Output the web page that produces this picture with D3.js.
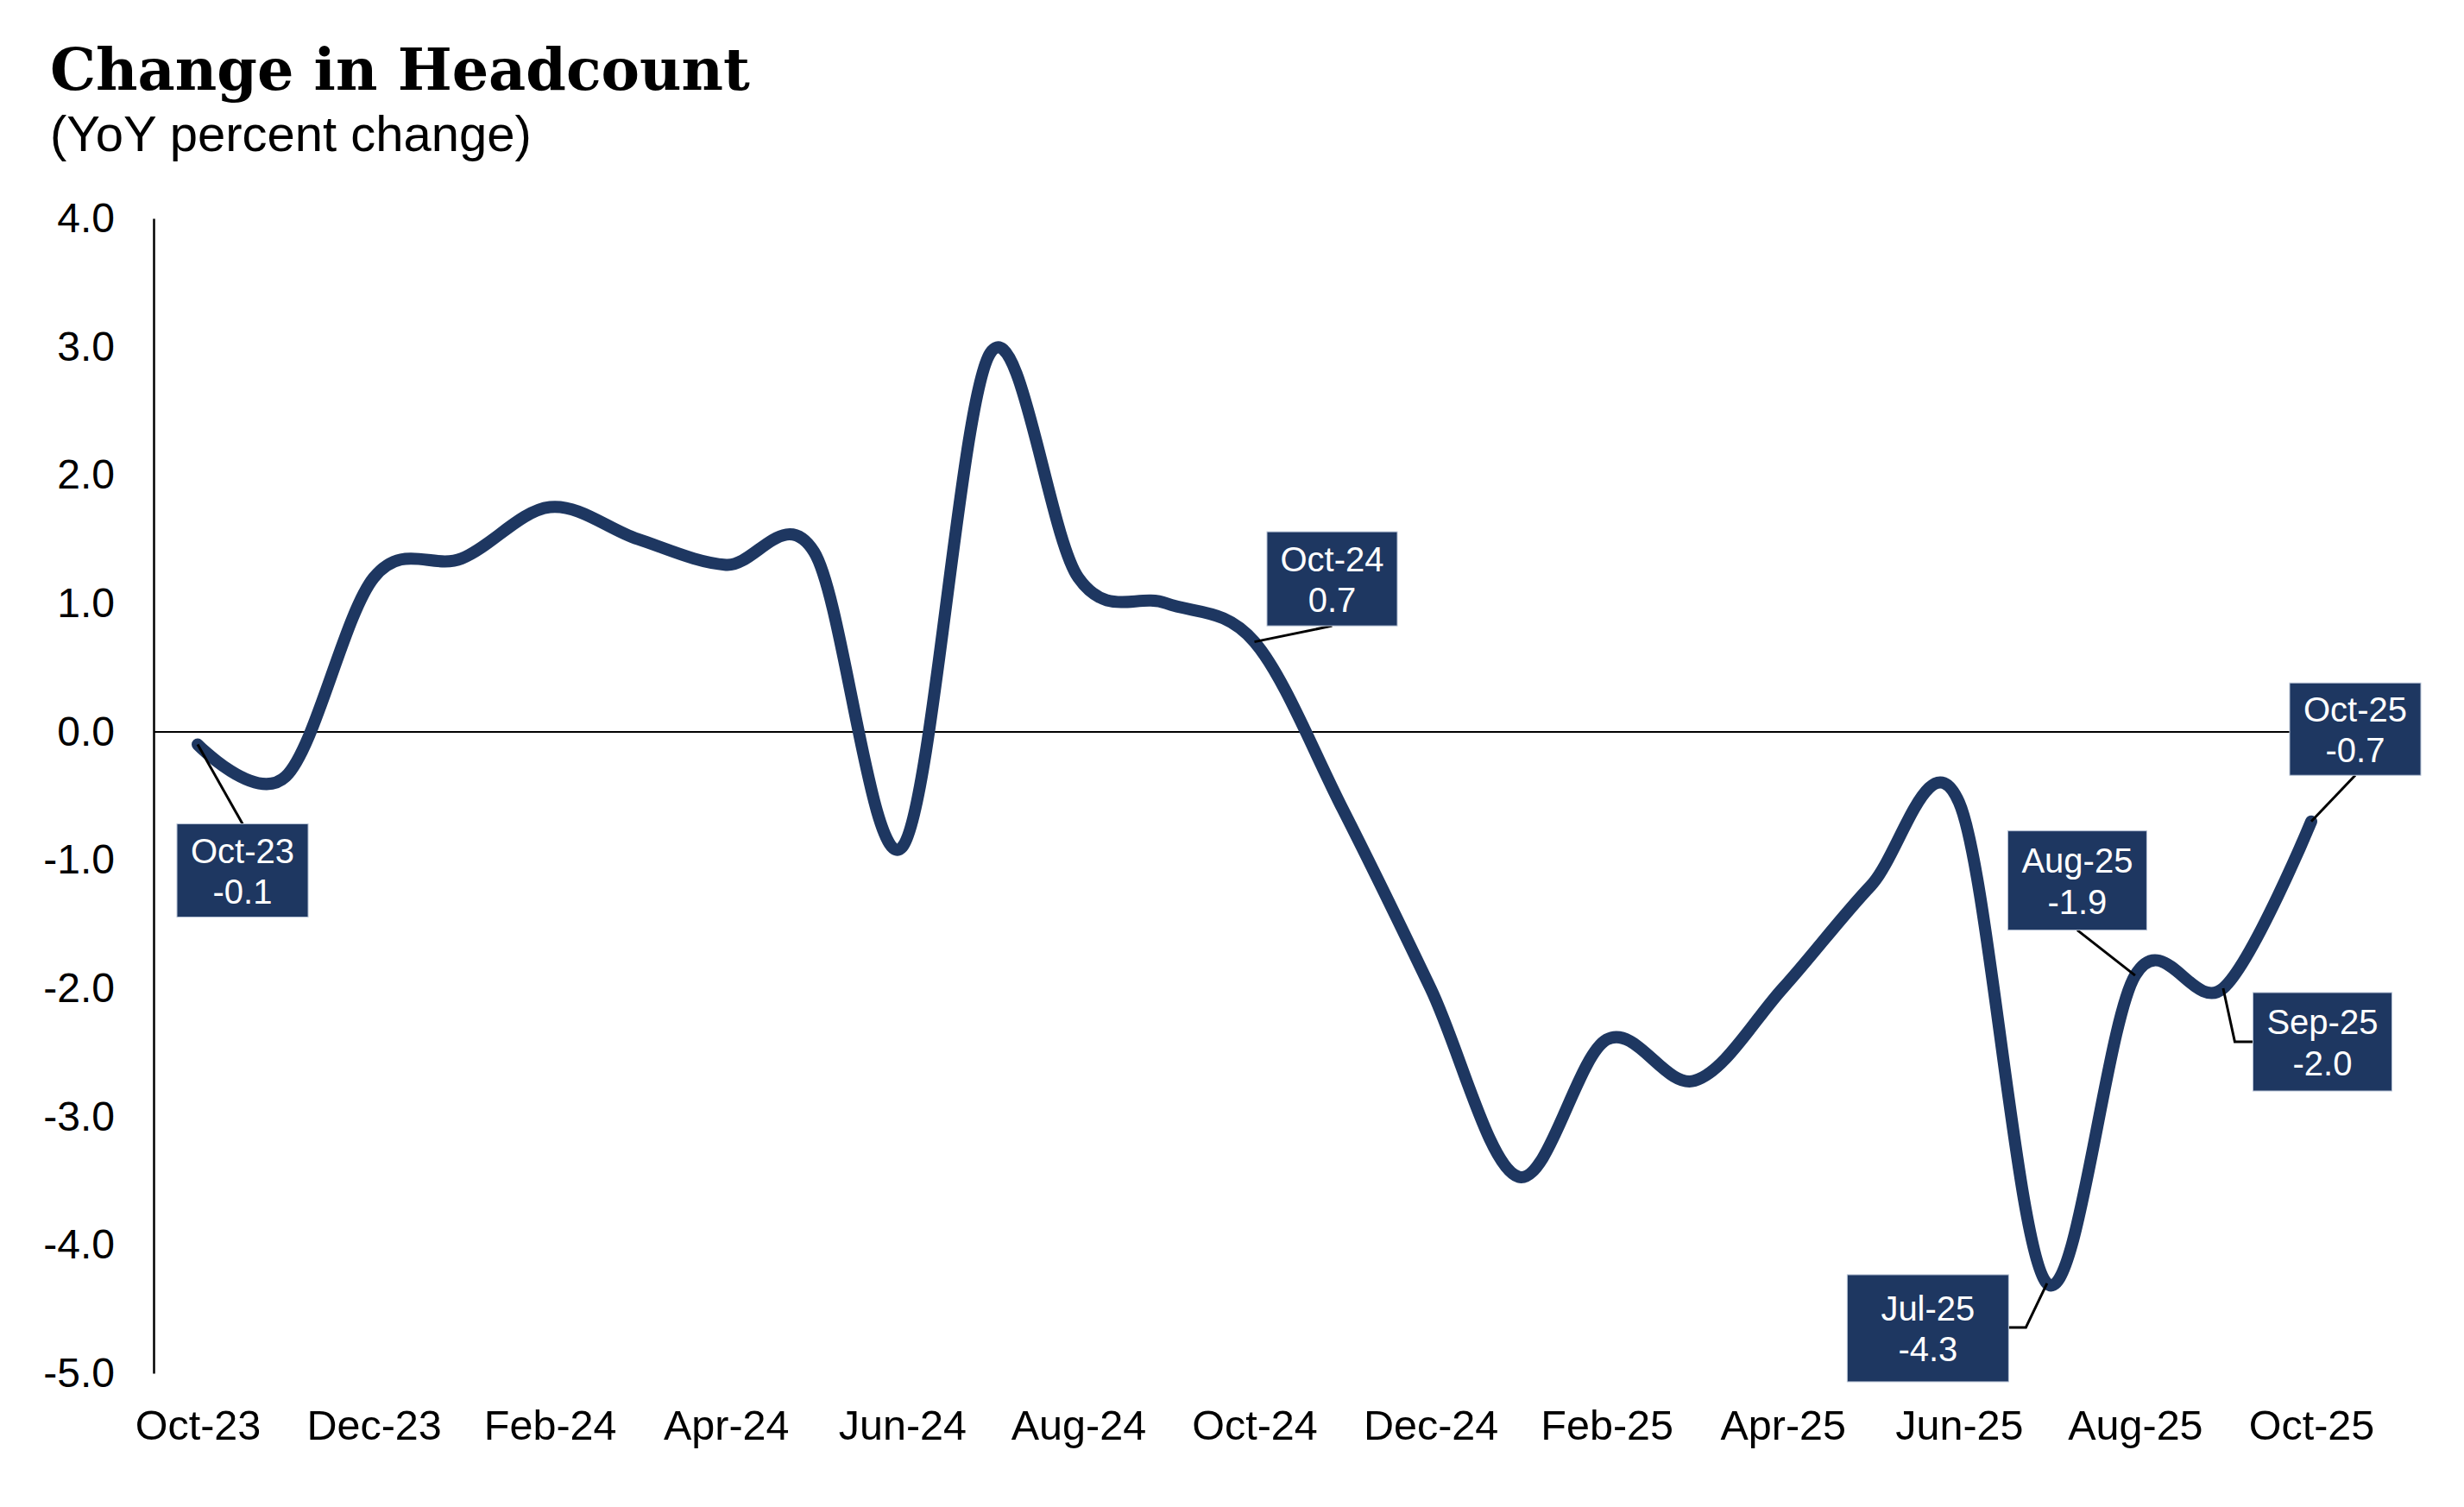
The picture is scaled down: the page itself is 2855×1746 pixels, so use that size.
<!DOCTYPE html>
<html>
<head>
<meta charset="utf-8">
<script src="https://cdn.jsdelivr.net/npm/d3@7"></script>
<style>
  html, body { margin: 0; padding: 0; background: #ffffff; }
  svg { display: block; }
</style>
</head>
<body>
<svg id="chart"></svg>
<script>
// ---------------- DATA ----------------
const months = ["Oct-23","Nov-23","Dec-23","Jan-24","Feb-24","Mar-24","Apr-24","May-24","Jun-24",
                "Jul-24","Aug-24","Sep-24","Oct-24","Nov-24","Dec-24","Jan-25","Feb-25","Mar-25",
                "Apr-25","May-25","Jun-25","Jul-25","Aug-25","Sep-25","Oct-25"];
const values = [-0.1, -0.35, 1.2, 1.35, 1.75, 1.5, 1.3, 1.4, -0.9,
                2.95, 1.2, 1.0, 0.7, -0.6, -2.0, -3.47, -2.4, -2.72,
                -2.0, -1.2, -0.55, -4.3, -1.9, -2.0, -0.7];
const xTickLabels = ["Oct-23","Dec-23","Feb-24","Apr-24","Jun-24","Aug-24","Oct-24",
                     "Dec-24","Feb-25","Apr-25","Jun-25","Aug-25","Oct-25"];
const yTickValues = [4, 3, 2, 1, 0, -1, -2, -3, -4, -5];
const annotatedMonths = ["Oct-23","Oct-24","Jul-25","Aug-25","Sep-25","Oct-25"];
const titleText = "Change in Headcount";
const subtitleText = "(YoY percent change)";

// ---------------- LAYOUT / STYLE ----------------
const W = 2855, H = 1746;
const plot = { left: 178, right: 2729, top: 253, bottom: 1591 };
const navy = "#1e3761";
const sans = "'Liberation Sans', Arial, Helvetica, sans-serif";
// callout box placement relative to its data point (box centre offset, size, leader style)
const calloutLayout = {
  "Oct-23": { dx: 52,   dy: 146,  w: 152, h: 108, leader: "top" },
  "Oct-24": { dx: 90,   dy: -73,  w: 151, h: 109, leader: "bottom" },
  "Jul-25": { dx: -138, dy: 52,   w: 187, h: 124, leader: "rightElbow" },
  "Aug-25": { dx: -67,  dy: -110, w: 161, h: 115, leader: "bottom" },
  "Sep-25": { dx: 115,  dy: 62,   w: 161, h: 114, leader: "leftElbow" },
  "Oct-25": { dx: 51,   dy: -107, w: 152, h: 107, leader: "bottom" }
};

const data = months.map((m, i) => ({ m, v: values[i] }));

const svg = d3.select("#chart").attr("width", W).attr("height", H)
  .attr("viewBox", `0 0 ${W} ${H}`);
svg.append("rect").attr("width", W).attr("height", H).attr("fill", "#fff");

const x = d3.scalePoint().domain(months).range([plot.left, plot.right]).padding(0.5);
const y = d3.scaleLinear().domain([-5, 4]).range([plot.bottom, plot.top]);

// Title
const title = svg.append("text")
  .attr("x", 58).attr("y", 104)
  .attr("font-family", "'DejaVu Serif', Georgia, serif")
  .attr("font-weight", "bold")
  .attr("font-size", 72)
  .attr("fill", "#000")
  .text(titleText);
const tl = title.node().getComputedTextLength();
title.attr("font-size", 72 * 811 / tl);

svg.append("text")
  .attr("x", 58).attr("y", 175)
  .attr("font-family", sans)
  .attr("font-size", 58)
  .attr("fill", "#000")
  .text(subtitleText);

// Y axis
const yAxis = svg.append("g")
  .attr("transform", `translate(${plot.left},0)`)
  .call(d3.axisLeft(y).tickValues(yTickValues).tickFormat(d => d.toFixed(1))
        .tickSize(0).tickSizeOuter(0).tickPadding(45));
yAxis.select(".domain").attr("stroke", "#000").attr("stroke-width", 2.5);
yAxis.selectAll("text").attr("font-family", sans).attr("font-size", 48).attr("fill", "#000");

// Zero line
const y0line = Math.round(y(0));
svg.append("line")
  .attr("x1", plot.left).attr("x2", plot.right)
  .attr("y1", y0line).attr("y2", y0line)
  .attr("stroke", "#000").attr("stroke-width", 2)
  .attr("shape-rendering", "crispEdges");

// X axis labels
const xAxis = svg.append("g")
  .attr("transform", `translate(0,${plot.bottom})`)
  .call(d3.axisBottom(x).tickValues(xTickLabels).tickSize(0).tickPadding(43));
xAxis.select(".domain").remove();
xAxis.selectAll("text").attr("font-family", sans).attr("font-size", 48.5).attr("fill", "#000");

// Line
const line = d3.line()
  .x(d => x(d.m)).y(d => y(d.v))
  .curve(d3.curveCardinal.tension(0));
svg.append("path")
  .datum(data)
  .attr("d", line)
  .attr("fill", "none")
  .attr("stroke", navy)
  .attr("stroke-width", 14)
  .attr("stroke-linecap", "round")
  .attr("stroke-linejoin", "round");

// Callouts
const callouts = data.filter(d => annotatedMonths.includes(d.m));
const leaders = svg.append("g");
const boxes = svg.append("g");
callouts.forEach(d => {
  const L = calloutLayout[d.m];
  const px = x(d.m), py = y(d.v);
  const cx = px + L.dx, cy = py + L.dy;
  const x0 = cx - L.w / 2, x1 = cx + L.w / 2, y0 = cy - L.h / 2, y1 = cy + L.h / 2;
  let pts;
  if (L.leader === "top") pts = [[cx, y0], [px, py]];
  else if (L.leader === "bottom") pts = [[cx, y1], [px, py]];
  else if (L.leader === "rightElbow") pts = [[x1, cy - 1], [x1 + 20, cy - 1], [px, py]];
  else pts = [[x0, cy], [x0 - 21, cy], [px, py]];
  leaders.append("path")
    .attr("d", d3.line()(pts))
    .attr("fill", "none").attr("stroke", "#000").attr("stroke-width", 3);
  boxes.append("rect")
    .attr("x", x0).attr("y", y0).attr("width", L.w).attr("height", L.h)
    .attr("fill", navy).attr("stroke", "#b8c4d6").attr("stroke-width", 1);
  const t = boxes.append("text")
    .attr("text-anchor", "middle")
    .attr("font-family", sans).attr("font-size", 40).attr("fill", "#fff");
  t.append("tspan").attr("x", cx).attr("y", cy - 9).text(d.m);
  t.append("tspan").attr("x", cx).attr("y", cy + 38.5).text(d.v.toFixed(1));
});
</script>
</body>
</html>
